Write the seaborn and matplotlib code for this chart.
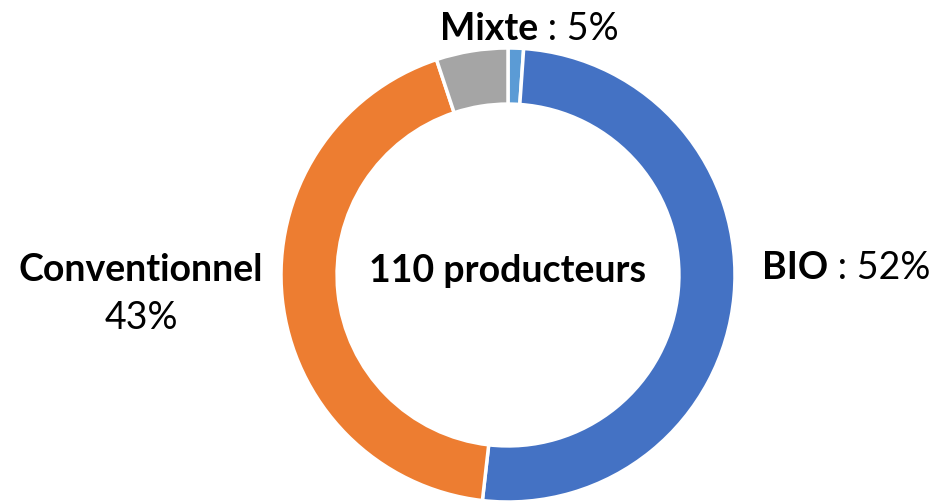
import matplotlib
matplotlib.use("Agg")
import matplotlib.pyplot as plt
import seaborn as sns

# Data (share of the 110 producers, clockwise from the top)
categories = ["Non renseigné", "BIO", "Conventionnel", "Mixte"]
values = [1.1, 50.7, 43.1, 5.1]
colors = ["#5B9BD5", "#4472C4", "#ED7D31", "#A5A5A5"]
center_label = "110 producteurs"
label_bold = ["BIO", "Conventionnel", "Mixte"]
label_pct = ["52%", "43%", "5%"]

sns.set_theme(style="white")
plt.rcParams["font.family"] = ["Lato", "DejaVu Sans"]

W, H = 934, 501
fig = plt.figure(figsize=(W / 100, H / 100), dpi=100)
fig.patch.set_facecolor("white")

cx, cy, R = 508, 275, 227
ax = fig.add_axes([(cx - R) / W, (H - cy - R) / H, 2 * R / W, 2 * R / H])
ax.pie(values, colors=colors, startangle=90, counterclock=False, radius=1,
       wedgeprops=dict(width=0.247, edgecolor="white", linewidth=2.5))
ax.set_xlim(-1, 1)
ax.set_ylim(-1, 1)
ax.set_aspect("auto")
ax.axis("off")

fs = 27


def fx(px):
    return px / W


def fy(py):
    return 1 - py / H


# center
fig.text(fx(cx), fy(271), center_label, ha="center", va="center",
         fontsize=fs, fontweight="bold", color="black")

# BIO : 52%
t = fig.text(fx(762), fy(268), label_bold[0], ha="left", va="center",
             fontsize=fs, fontweight="bold", color="black")
ax.annotate(" : " + label_pct[0], xy=(1, 0.5), xycoords=t, ha="left", va="center",
            fontsize=fs, color="black", annotation_clip=False)

# Conventionnel / 43%
fig.text(fx(141), fy(270), label_bold[1], ha="center", va="center",
         fontsize=fs, fontweight="bold", color="black")
fig.text(fx(141), fy(318), label_pct[1], ha="center", va="center",
         fontsize=fs, color="black")

# Mixte : 5%
t2 = fig.text(fx(440), fy(29), label_bold[2], ha="left", va="center",
              fontsize=fs, fontweight="bold", color="black")
ax.annotate(" : " + label_pct[2], xy=(1, 0.5), xycoords=t2, ha="left", va="center",
            fontsize=fs, color="black", annotation_clip=False)

fig.savefig("out.png", dpi=100, facecolor="white")
